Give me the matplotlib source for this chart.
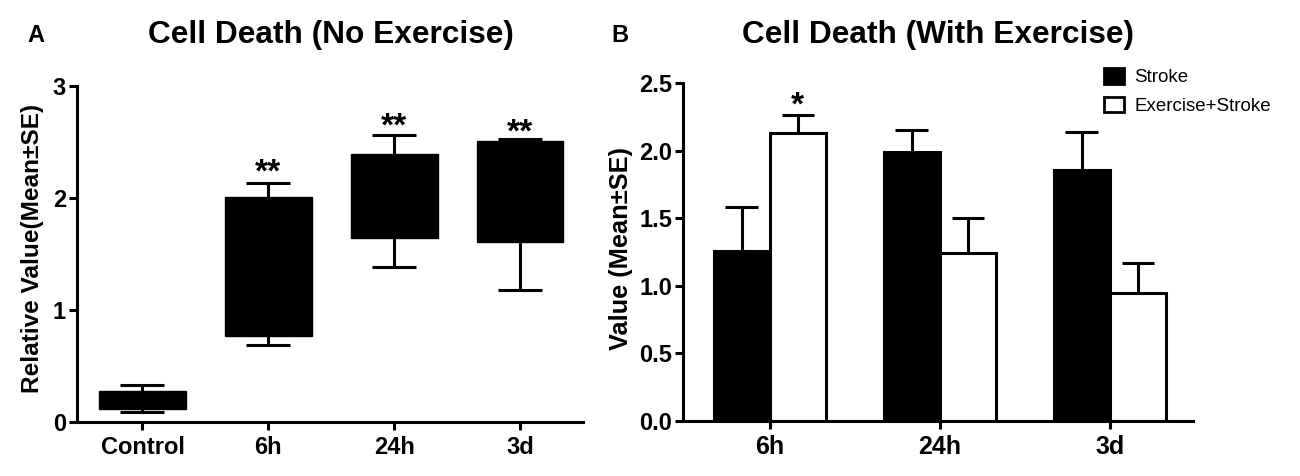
import numpy as np
import matplotlib
matplotlib.use("Agg")
import matplotlib.pyplot as plt
from matplotlib.patches import Patch

plt.rcParams["font.family"] = ["Liberation Sans", "DejaVu Sans"]
plt.rcParams["font.weight"] = "bold"

# panel A: floating boxes (min / lower / upper / max)
groups_a = ["Control", "6h", "24h", "3d"]
box_lo = [0.12, 0.77, 1.64, 1.61]
box_hi = [0.28, 2.01, 2.39, 2.51]
whisk_lo = [0.09, 0.69, 1.38, 1.18]
whisk_hi = [0.33, 2.13, 2.56, 2.53]
stars_a = ["", "**", "**", "**"]
star_y_a = [np.nan, 2.27, 2.68, 2.63]

# panel B: grouped bars, mean + SE
groups_b = ["6h", "24h", "3d"]
stroke_mean = [1.26, 1.99, 1.86]
stroke_se = [0.32, 0.16, 0.28]
exstroke_mean = [2.13, 1.24, 0.95]
exstroke_se = [0.13, 0.26, 0.22]
stars_b = ["*", "", ""]
star_y_b = [2.38, np.nan, np.nan]

LW = 2.2
NARROW = ["Liberation Sans Narrow", "Liberation Sans"]


def style(ax):
    for s in ("top", "right"):
        ax.spines[s].set_visible(False)
    for s in ("left", "bottom"):
        ax.spines[s].set_linewidth(LW)
    ax.tick_params(width=LW, length=6, direction="out")
    ax.tick_params(axis="x", pad=4)
    ax.tick_params(axis="y", pad=2)


def whiskers(ax, x, y0, y1, cap):
    ax.vlines(x, y0, y1, color="black", lw=LW, zorder=1)
    ax.hlines(y1, np.asarray(x) - cap / 2, np.asarray(x) + cap / 2, color="black", lw=LW, zorder=1)


fig = plt.figure(figsize=(13, 4.76), dpi=100)
axA = fig.add_axes([77 / 1300, 54 / 476, 506 / 1300, 336 / 476])
axB = fig.add_axes([683 / 1300, 55 / 476, 510 / 1300, 338 / 476])

# ---- A
xa = np.arange(len(groups_a))
lo, hi = np.array(box_lo), np.array(box_hi)
axA.bar(xa, hi - lo, bottom=lo, width=0.69, color="black", edgecolor="black", lw=1, zorder=2)
whiskers(axA, xa, hi, whisk_hi, 0.35)
whiskers(axA, xa, lo, whisk_lo, 0.35)
for x, s, y in zip(xa, stars_a, star_y_a):
    if s:
        axA.annotate(s, (x, y), xytext=(0, -10), textcoords="offset points",
                     ha="center", va="baseline", fontsize=24, fontweight="bold")
axA.set_xlim(-0.52, 3.5)
axA.set_ylim(0, 3)
axA.set_yticks([0, 1, 2, 3])
axA.set_xticks(xa, groups_a, fontsize=17)
style(axA)
for t in axA.get_yticklabels():
    t.set_fontfamily(NARROW); t.set_fontsize(17)

# ---- B
xb = np.arange(len(groups_b))
w, off = 0.33, 0.165
whiskers(axB, xb - off, stroke_mean, np.array(stroke_mean) + np.array(stroke_se), 0.19)
whiskers(axB, xb + off, exstroke_mean, np.array(exstroke_mean) + np.array(exstroke_se), 0.19)
axB.bar(xb - off, stroke_mean, width=w, color="black", edgecolor="black", lw=LW, zorder=2)
axB.bar(xb + off, exstroke_mean, width=w, color="white", edgecolor="black", lw=LW, zorder=2)
for x, s, y in zip(xb + off, stars_b, star_y_b):
    if s:
        axB.annotate(s, (x, y), xytext=(0, -11), textcoords="offset points",
                     ha="center", va="baseline", fontsize=24, fontweight="bold")
axB.set_xlim(-0.51, 2.49)
axB.set_ylim(0, 2.5)
axB.set_yticks(np.arange(0, 2.51, 0.5))
axB.set_yticklabels([f"{v:.1f}" for v in np.arange(0, 2.51, 0.5)])
axB.set_xticks(xb, groups_b, fontsize=18)
style(axB)
for t in axB.get_yticklabels():
    t.set_fontfamily(NARROW); t.set_fontsize(17)

handles = [Patch(facecolor="black", edgecolor="black", lw=2),
           Patch(facecolor="white", edgecolor="black", lw=2)]
fig.legend(handles, ["Stroke", "Exercise+Stroke"], loc="upper left",
           bbox_to_anchor=(1104 / 1300, 1 - 68 / 476), frameon=False,
           prop=dict(family="Liberation Sans", weight="normal", size=13.5),
           handlelength=1.05, handleheight=0.9, handletextpad=0.55,
           labelspacing=0.55, borderpad=0, borderaxespad=0)

# titles, panel letters, y labels
fig.text(331 / 1300, 1 - 35 / 476, "Cell Death (No Exercise)", ha="center", va="center", fontsize=22.8)
fig.text(938 / 1300, 1 - 35 / 476, "Cell Death (With Exercise)", ha="center", va="center", fontsize=22.8)
fig.text(36 / 1300, 1 - 36 / 476, "A", ha="center", va="center", fontsize=17)
fig.text(620 / 1300, 1 - 36 / 476, "B", ha="center", va="center", fontsize=17)
fig.text(33 / 1300, 1 - 248 / 476, "Relative Value(Mean±SE)", rotation=90, ha="center", va="center", fontsize=17.6)
fig.text(621 / 1300, 1 - 249 / 476, "Value (Mean±SE)", rotation=90, ha="center", va="center", fontsize=18.3)

fig.savefig("out.png", dpi=100)
